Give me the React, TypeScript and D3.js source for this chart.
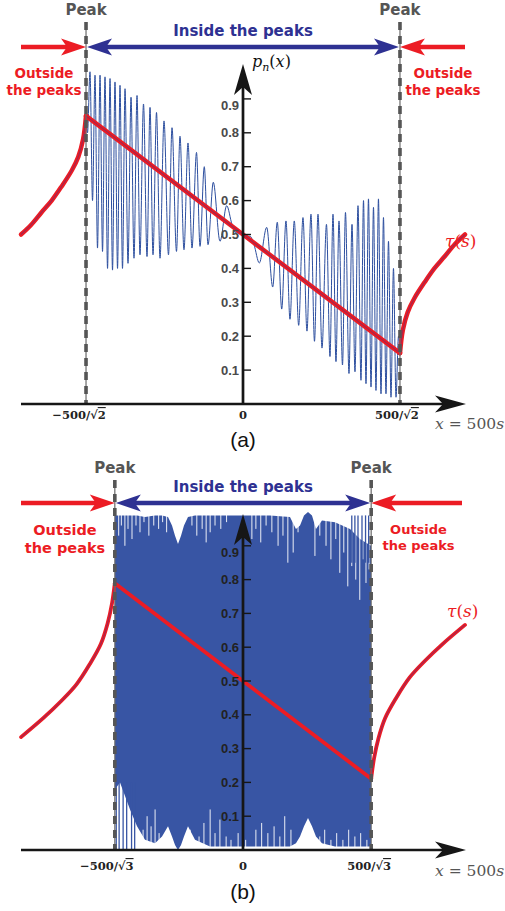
import React from 'react';
import * as d3 from 'd3';

// ---------------- data ----------------
const yTickValues = [0.1, 0.2, 0.3, 0.4, 0.5, 0.6, 0.7, 0.8, 0.9];
const yTickLabels = ['0.1', '0.2', '0.3', '0.4', '0.5', '0.6', '0.7', '0.8', '0.9'];
const peakA = 353.55; // 500/sqrt(2)
const peakB = 288.68; // 500/sqrt(3)
const xTickRadA = '2';
const xTickRadB = '3';

// panel (a) tau(s)
const tauA_left_u = [-500, -477, -454, -431, -409, -386, -371, -360, -353.6];
const tauA_left_p = [0.5, 0.529, 0.565, 0.6, 0.641, 0.688, 0.729, 0.782, 0.85];
const tauA_mid_u = [-353.6, 0, 353.6];
const tauA_mid_p = [0.85, 0.5, 0.15];
const tauA_right_u = [353.6, 360, 371, 386, 409, 431, 454, 477, 500];
const tauA_right_p = [0.15, 0.218, 0.271, 0.312, 0.359, 0.4, 0.435, 0.471, 0.5];

// panel (b) tau(s)
const tauB_left_u = [-500, -450, -410, -375, -345, -320, -305, -295, -288.7];
const tauB_left_p = [0.334, 0.39, 0.44, 0.49, 0.55, 0.61, 0.67, 0.73, 0.789];
const tauB_mid_u = [-288.7, 0, 288.7];
const tauB_mid_p = [0.789, 0.5, 0.211];
const tauB_right_u = [288.7, 295, 305, 320, 345, 375, 410, 450, 500];
const tauB_right_p = [0.211, 0.27, 0.33, 0.39, 0.45, 0.51, 0.56, 0.61, 0.666];

// panel (a) p_n(x) extrema
const waveA_u = [
  -353.6, -350.2, -344.6, -338.9, -333.3, -327.7, -322.0, -316.4, -310.8, -305.1,
  -299.5, -293.9, -288.3, -282.6, -277.0, -271.4, -265.7, -259.0, -252.2, -245.5,
  -238.7, -232.0, -224.1, -216.2, -209.4, -202.7, -194.8, -186.9, -177.9, -167.8,
  -159.9, -149.8, -141.9, -132.9, -123.9, -114.9, -104.7, -96.8, -87.2, -78.8,
  -66.9, -51.8, -36.7, -24.8, -15.8, -6.8, 0,
  6.8, 15.8, 24.8, 36.7, 53.4, 66.9, 77.2, 87.2, 96.8, 105.8,
  115.5, 125.4, 135.1, 144.1, 153.1, 161.0, 168.9, 177.9, 188.0, 195.9,
  202.7, 209.4, 216.2, 224.1, 230.8, 238.7, 245.5, 252.2, 259.0, 265.7,
  271.4, 277.0, 282.6, 288.3, 293.9, 299.5, 305.1, 310.8, 316.4, 322.0,
  327.7, 333.3, 338.9, 344.6, 350.2, 353.6,
];
const waveA_p = [
  0.85, 0.80, 0.98, 0.60, 0.97, 0.46, 0.97, 0.45, 0.965, 0.40,
  0.96, 0.395, 0.95, 0.40, 0.94, 0.40, 0.93, 0.415, 0.905, 0.43,
  0.91, 0.44, 0.885, 0.435, 0.875, 0.44, 0.86, 0.43, 0.835, 0.44,
  0.815, 0.45, 0.79, 0.455, 0.77, 0.46, 0.742, 0.465, 0.70, 0.47,
  0.654, 0.48, 0.585, 0.53, 0.505, 0.505, 0.5,
  0.495, 0.495, 0.47, 0.416, 0.521, 0.345, 0.536, 0.28, 0.54, 0.25,
  0.54, 0.232, 0.55, 0.215, 0.56, 0.185, 0.56, 0.165, 0.53, 0.14,
  0.56, 0.125, 0.54, 0.115, 0.565, 0.09, 0.53, 0.095, 0.585, 0.07,
  0.6, 0.06, 0.605, 0.05, 0.58, 0.04, 0.605, 0.03, 0.55, 0.03,
  0.48, 0.02, 0.40, 0.02, 0.2, 0.15,
];

// panel (b) envelope of the dense oscillation
const waveB_u = [-288.3, -277, -265.7, -254.5, -238.7, -220.7, -198.2, -182.4, -168.9, -159.9, -153.1, -146.4, -139.6, -132.9, -123.9, -108.1, -74.3, -6.8, 60.8, 105.8, 119.3, 128.4, 137.4, 146.4, 155.4, 164.4, 177.9, 207.2, 241, 263.5, 288.3];
const waveB_hi = [0.99, 0.99, 0.99, 0.99, 0.99, 0.985, 0.99, 0.99, 0.985, 0.96, 0.93, 0.905, 0.93, 0.96, 0.985, 0.99, 0.99, 0.99, 0.99, 0.985, 0.95, 0.96, 0.99, 1.0, 0.99, 0.95, 0.975, 0.97, 0.95, 0.92, 0.9];
const waveB_lo = [0.18, 0.2, 0.16, 0.12, 0.07, 0.03, 0.02, 0.04, 0.07, 0.04, 0.015, 0.0, 0.015, 0.04, 0.07, 0.03, 0.01, 0.01, 0.01, 0.01, 0.02, 0.04, 0.07, 0.095, 0.07, 0.04, 0.02, 0.01, 0.01, 0.01, 0.01];
// white gaps reaching in from the top (u, lowest value of the gap)
const gapTopB_u = [-280, -274, -266, -259, -250, -241, -232, -223, -212, -201, -190, -181, -172, -115, -104, -92, -83, -74, -63, -50, -37, 20, 29, 40, 52, 65, 79, 90, 101, 113, 124, 162, 173, 187, 198, 209, 218, 227, 236, 245, 254, 263, 270, 277, 284];
const gapTopB_p = [0.93, 0.96, 0.9, 0.95, 0.92, 0.96, 0.94, 0.97, 0.93, 0.96, 0.95, 0.97, 0.94, 0.96, 0.93, 0.95, 0.91, 0.94, 0.96, 0.95, 0.97, 0.92, 0.95, 0.91, 0.96, 0.94, 0.9, 0.93, 0.85, 0.88, 0.94, 0.87, 0.93, 0.9, 0.86, 0.92, 0.82, 0.88, 0.78, 0.84, 0.8, 0.74, 0.86, 0.79, 0.83];
// white gaps reaching up from the axis (u, highest value of the gap)
const gapBotB_u = [-225, -216, -207, -198, -189, -119, -99, -88, -74, -63, -52, -38, -27, -11, 6, 29, 42, 56, 70, 83, 94, 108, 173, 184, 198, 211, 225, 238, 252, 265, 279];
const gapBotB_p = [0.06, 0.1, 0.07, 0.12, 0.05, 0.06, 0.04, 0.08, 0.12, 0.05, 0.09, 0.04, 0.03, 0.05, 0.03, 0.06, 0.08, 0.05, 0.07, 0.04, 0.1, 0.06, 0.04, 0.06, 0.03, 0.05, 0.03, 0.06, 0.04, 0.05, 0.03];
// isolated blue spikes poking out of the envelope
const spikeBotB_u = [-285.5, -279, -270, -262, -251, -244];
const spikeTopB_u = [245, 252, 259, 268, 276, 283];

// ---------------- styles ----------------
const RED = '#ec1c24';
const NAVY = '#2e3192';
const GRAY = '#555555';
const WAVE = '#2d4f9f';
const FILL = '#3855a4';
const AXIS = '#161616';
const SANS = 'DejaVu Sans, Liberation Sans, sans-serif';
const LSANS = 'Liberation Sans, Arial, sans-serif';
const DSERIF = 'DejaVu Serif, Liberation Serif, serif';

const x = d3.scaleLinear().domain([-500, 500]).range([21, 465]);

function head(tx: number, ty: number, dx: number, dy: number, len: number, half: number, notch: number) {
  const bx = tx - dx * len, by = ty - dy * len;
  const px = -dy, py = dx;
  const nx = bx + dx * notch, ny = by + dy * notch;
  return `M${tx},${ty} L${bx + px * half},${by + py * half} L${nx},${ny} L${bx - px * half},${by - py * half} Z`;
}

type Cfg = {
  y0: number; p1: number; axisTip: number; peakU: number; rad: string;
  dashTop: number; arrowY: number; peakLabelY: number; insideY: number;
  outL: { x: number; y1: number; y2: number; fs: number };
  outR: { x: number; y1: number; y2: number; fs: number };
  rightArrowStart: number; xTickY: number; xEqY: number; cap: string; capY: number;
  tau: { x: number; y: number }; pLabel: boolean; tickColor: string; redW: number;
  leftLabelDx: number; rightLabelDx: number;
};

function Panel({ c, which }: { c: Cfg; which: 'a' | 'b' }) {
  const y = d3.scaleLinear().domain([0, 1]).range([c.y0, c.p1]);
  const line = d3.line<[number, number]>().x(d => x(d[0])).y(d => y(d[1]));
  const smooth = d3.line<[number, number]>().x(d => x(d[0])).y(d => y(d[1])).curve(d3.curveMonotoneX);
  const round = d3.line<[number, number]>().x(d => x(d[0])).y(d => y(d[1])).curve(d3.curveCatmullRom.alpha(0.5));
  const zip = (a: number[], b: number[]) => a.map((v, i) => [v, b[i]] as [number, number]);

  const tl = which === 'a' ? zip(tauA_left_u, tauA_left_p) : zip(tauB_left_u, tauB_left_p);
  const tm = which === 'a' ? zip(tauA_mid_u, tauA_mid_p) : zip(tauB_mid_u, tauB_mid_p);
  const tr = which === 'a' ? zip(tauA_right_u, tauA_right_p) : zip(tauB_right_u, tauB_right_p);

  const xl = x(-c.peakU), xr = x(c.peakU), xc = x(0);
  const area = d3.area<number>().x((_, i) => x(waveB_u[i])).y0((_, i) => y(waveB_lo[i])).y1((_, i) => y(waveB_hi[i]));

  return (
    <g>
      {which === 'a' ? (
        <path d={smooth(zip(waveA_u, waveA_p)) || ''} fill="none" stroke={WAVE} strokeWidth={1} />
      ) : (
        <g>
          <path d={area(waveB_u) || ''} fill={FILL} />
          {gapTopB_u.map((u, i) => (
            <line key={'t' + i} x1={x(u)} x2={x(u)} y1={y(1.01)} y2={y(gapTopB_p[i])} stroke="#fff" strokeWidth={1} strokeOpacity={0.9} />
          ))}
          {gapBotB_u.map((u, i) => (
            <line key={'b' + i} x1={x(u)} x2={x(u)} y1={y(0)} y2={y(gapBotB_p[i])} stroke="#fff" strokeWidth={1} strokeOpacity={0.9} />
          ))}
          {spikeBotB_u.map((u, i) => (
            <line key={'sb' + i} x1={x(u)} x2={x(u)} y1={y(0)} y2={y(0.2)} stroke={FILL} strokeWidth={1.3} />
          ))}
          {spikeTopB_u.map((u, i) => (
            <line key={'st' + i} x1={x(u)} x2={x(u)} y1={y(0.99)} y2={y(0.85)} stroke={FILL} strokeWidth={1.3} />
          ))}
        </g>
      )}
      {/* tau */}
      {[tl, tm, tr].map((seg, i) => (
        <g key={i}>
          <path d={(i === 1 ? line(seg) : round(seg)) || ''} fill="none" stroke={RED} strokeWidth={c.redW} strokeLinecap="round" />
          {(which === 'a' || i !== 1) && (
            <path d={(i === 1 ? line(seg) : round(seg)) || ''} fill="none" stroke="#5a2f7e" strokeOpacity={0.5} strokeWidth={1.1} />
          )}
        </g>
      ))}
      {/* peak dashed lines */}
      {[xl, xr].map((px, i) => (
        <g key={i}>
          <line x1={px} x2={px} y1={c.dashTop} y2={c.y0} stroke="#6a6a6a" strokeWidth={1.2} />
          <line x1={px} x2={px} y1={c.dashTop} y2={c.y0} stroke="#555" strokeWidth={3.6} strokeDasharray="8 6" />
        </g>
      ))}
      {/* axes */}
      <line x1={x(-500)} x2={x(500) - 18} y1={c.y0} y2={c.y0} stroke={AXIS} strokeWidth={2.7} />
      <path d={head(x(500) + 1, c.y0, 1, 0, 31, 8.5, 8)} fill={AXIS} />
      <line x1={xc} x2={xc} y1={c.y0} y2={c.axisTip + 20} stroke={AXIS} strokeWidth={2.7} />
      <path d={head(xc, c.axisTip, 0, -1, 31, 9, 8)} fill={AXIS} />
      {yTickValues.map((v, i) => (
        <g key={v}>
          <line x1={xc} x2={xc + 8} y1={y(v)} y2={y(v)} stroke={AXIS} strokeWidth={1.4} />
          <text x={xc - 4} y={y(v) + (i === 8 ? 11.5 : 4.6)} textAnchor="end" fontFamily={LSANS} fontWeight="bold" fontSize={13} fill={c.tickColor}>{yTickLabels[i]}</text>
        </g>
      ))}
      {/* x tick labels */}
      <text x={xl + c.leftLabelDx} y={c.xTickY} textAnchor="middle" fontFamily={DSERIF} fontWeight="bold" fontSize={11.5} fill="#222">
        −500/√<tspan style={{ textDecoration: 'overline' }}>{c.rad}</tspan>
      </text>
      <text x={xc} y={c.xTickY} textAnchor="middle" fontFamily={DSERIF} fontWeight="bold" fontSize={11.5} fill="#222">0</text>
      <text x={xr + c.rightLabelDx} y={c.xTickY} textAnchor="middle" fontFamily={DSERIF} fontWeight="bold" fontSize={11.5} fill="#222">
        500/√<tspan style={{ textDecoration: 'overline' }}>{c.rad}</tspan>
      </text>
      <text x={435} y={c.xEqY} fontFamily={DSERIF} fontSize={15.5} fill={GRAY}>
        <tspan fontStyle="italic">x</tspan> = 500<tspan fontStyle="italic">s</tspan>
      </text>
      <text x={243} y={c.capY} textAnchor="middle" fontFamily={LSANS} fontSize={21} fill="#111">{c.cap}</text>
      {/* top annotations */}
      <text x={xl} y={c.peakLabelY} textAnchor="middle" fontFamily={SANS} fontWeight="bold" fontSize={15} fill={GRAY}>Peak</text>
      <text x={xr} y={c.peakLabelY} textAnchor="middle" fontFamily={SANS} fontWeight="bold" fontSize={15} fill={GRAY}>Peak</text>
      <text x={243} y={c.insideY} textAnchor="middle" fontFamily={SANS} fontWeight="bold" fontSize={15} fill={NAVY}>Inside the peaks</text>
      <text x={c.outL.x} y={c.outL.y1} textAnchor="middle" fontFamily={SANS} fontWeight="bold" fontSize={c.outL.fs} fill={RED}>Outside</text>
      <text x={c.outL.x} y={c.outL.y2} textAnchor="middle" fontFamily={SANS} fontWeight="bold" fontSize={c.outL.fs} fill={RED}>the peaks</text>
      <text x={c.outR.x} y={c.outR.y1} textAnchor="middle" fontFamily={SANS} fontWeight="bold" fontSize={c.outR.fs} fill={RED}>Outside</text>
      <text x={c.outR.x} y={c.outR.y2} textAnchor="middle" fontFamily={SANS} fontWeight="bold" fontSize={c.outR.fs} fill={RED}>the peaks</text>
      {/* arrows */}
      <line x1={x(-500)} x2={xl - 18} y1={c.arrowY} y2={c.arrowY} stroke={RED} strokeWidth={4.3} />
      <path d={head(xl, c.arrowY, 1, 0, 25, 8.5, 6)} fill={RED} />
      <line x1={xl + 18} x2={xr - 18} y1={c.arrowY} y2={c.arrowY} stroke={NAVY} strokeWidth={4.3} />
      <path d={head(xl + 1, c.arrowY, -1, 0, 25, 8.5, 6)} fill={NAVY} />
      <path d={head(xr - 1, c.arrowY, 1, 0, 25, 8.5, 6)} fill={NAVY} />
      <line x1={c.rightArrowStart} x2={xr + 18} y1={c.arrowY} y2={c.arrowY} stroke={RED} strokeWidth={4.3} />
      <path d={head(xr, c.arrowY, -1, 0, 25, 8.5, 6)} fill={RED} />
      {/* tau label */}
      <text x={c.tau.x} y={c.tau.y} fontFamily={DSERIF} fontSize={17} fill={RED}>
        <tspan fontStyle="italic">τ</tspan>(<tspan fontStyle="italic">s</tspan>)
      </text>
      {c.pLabel && (
        <text x={252} y={67} fontFamily={DSERIF} fontSize={16} fill="#111">
          <tspan fontStyle="italic">p</tspan><tspan fontStyle="italic" fontSize={11} dy={4}>n</tspan><tspan dy={-4}>(</tspan><tspan fontStyle="italic">x</tspan>)
        </text>
      )}
    </g>
  );
}

const cfgA: Cfg = {
  y0: 404, p1: 65, axisTip: 64, peakU: peakA, rad: xTickRadA,
  dashTop: 22, arrowY: 47, peakLabelY: 15, insideY: 36,
  outL: { x: 44, y1: 78, y2: 94.5, fs: 13.5 },
  outR: { x: 443, y1: 78, y2: 94.5, fs: 13.5 },
  rightArrowStart: 465, xTickY: 419, xEqY: 429, cap: '(a)', capY: 447,
  tau: { x: 445, y: 247 }, pLabel: true, tickColor: '#4a4a4a', redW: 4.5,
  leftLabelDx: -7, rightLabelDx: -3,
};
const cfgB: Cfg = {
  y0: 850, p1: 512, axisTip: 514, peakU: peakB, rad: xTickRadB,
  dashTop: 480, arrowY: 503, peakLabelY: 472.5, insideY: 491.5,
  outL: { x: 65, y1: 535, y2: 553, fs: 14.5 },
  outR: { x: 418.5, y1: 534, y2: 549.5, fs: 13 },
  rightArrowStart: 462, xTickY: 870, xEqY: 876, cap: '(b)', capY: 899,
  tau: { x: 447, y: 617 }, pLabel: false, tickColor: '#222', redW: 3.8,
  leftLabelDx: -8, rightLabelDx: -2,
};

export default function App() {
  return (
    <svg width={505} height={911} style={{ position: 'absolute', left: 0, top: 0 }} xmlns="http://www.w3.org/2000/svg">
      <rect width={505} height={911} fill="#fff" />
      <Panel c={cfgA} which="a" />
      <Panel c={cfgB} which="b" />
    </svg>
  );
}
